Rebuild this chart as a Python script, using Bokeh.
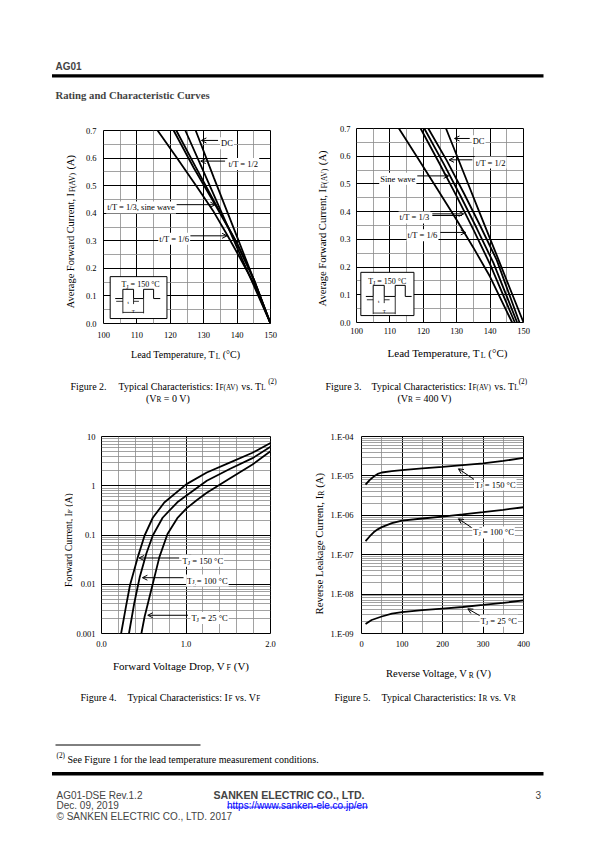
import math
from bokeh.plotting import figure
from bokeh.models import (Range1d, Label, Arrow, OpenHead, FixedTicker,
                          NumeralTickFormatter, CustomJSTickFormatter)
from bokeh.layouts import column, row
from bokeh.embed import file_html
from bokeh.resources import INLINE

SERIF = "Liberation Serif"
SANS = "Liberation Sans"

# ---------------- Figure 2 : IF(AV) vs TL  (VR = 0 V) ----------------
F2_DC_T = [127.6, 133, 139, 144, 150]
F2_DC_I = [0.70, 0.53, 0.345, 0.19, 0.0]
F2_HALF_T = [124.5, 130, 136, 142, 150]
F2_HALF_I = [0.70, 0.55, 0.385, 0.22, 0.0]
F2_SINE_T = [121.8, 127.5, 133.5, 140, 145, 150]
F2_SINE_I = [0.70, 0.57, 0.435, 0.29, 0.16, 0.0]
F2_THIRD_T = [121.0, 127, 133.5, 140, 145, 150]
F2_THIRD_I = [0.70, 0.565, 0.43, 0.29, 0.16, 0.0]
F2_SIXTH_T = [116.2, 122, 128, 133, 137, 141, 145, 150]
F2_SIXTH_I = [0.70, 0.60, 0.495, 0.405, 0.322, 0.235, 0.145, 0.0]

# ---------------- Figure 3 : IF(AV) vs TL  (VR = 400 V) ----------------
F3_DC_T = [126.8, 132, 137, 142, 146, 150]
F3_DC_I = [0.70, 0.543, 0.392, 0.242, 0.121, 0.0]
F3_HALF_T = [121.5, 127, 132, 137, 142, 148.8]
F3_HALF_I = [0.70, 0.585, 0.47, 0.35, 0.225, 0.0]
F3_SINE_T = [120.3, 126, 131, 136, 141, 148.1]
F3_SINE_I = [0.70, 0.575, 0.46, 0.34, 0.215, 0.0]
F3_THIRD_T = [119.2, 125, 130, 135, 140, 147.4]
F3_THIRD_I = [0.70, 0.57, 0.455, 0.335, 0.21, 0.0]
F3_SIXTH_T = [112.7, 118, 124, 130, 135, 140, 146.6]
F3_SIXTH_I = [0.70, 0.60, 0.485, 0.37, 0.27, 0.165, 0.0]

# ---------------- Figure 4 : IF vs VF ----------------
F4_150_V = [0.232, 0.29, 0.337, 0.426, 0.51, 0.607, 0.743, 1.006, 1.246, 1.517, 1.787, 2.0]
F4_150_I = [0.001, 0.00355, 0.00955, 0.0339, 0.0977, 0.224, 0.457, 1.08, 1.86, 2.95, 4.68, 7.4]
F4_100_V = [0.325, 0.387, 0.453, 0.53, 0.607, 0.723, 0.897, 1.006, 1.246, 1.517, 1.787, 2.0]
F4_100_I = [0.001, 0.00407, 0.0141, 0.0417, 0.0977, 0.224, 0.462, 0.631, 1.26, 2.19, 3.63, 6.17]
F4_25_V = [0.472, 0.51, 0.549, 0.607, 0.685, 0.781, 0.897, 1.006, 1.13, 1.246, 1.517, 1.787, 2.0]
F4_25_I = [0.001, 0.00219, 0.00407, 0.0102, 0.0355, 0.105, 0.219, 0.347, 0.513, 0.724, 1.41, 2.69, 5.01]

# ---------------- Figure 5 : IR vs VR ----------------
F5_150_V = [10, 20, 30, 40, 50, 75, 100, 150, 200, 250, 300, 350, 400]
F5_150_I = [6.0e-6, 7.8e-6, 9.6e-6, 1.12e-5, 1.22e-5, 1.32e-5, 1.4e-5, 1.55e-5, 1.7e-5, 1.88e-5, 2.08e-5, 2.4e-5, 2.85e-5]
F5_100_V = [10, 20, 30, 40, 50, 75, 100, 150, 200, 250, 300, 350, 400]
F5_100_I = [2.2e-7, 2.9e-7, 3.7e-7, 4.4e-7, 5.0e-7, 6.3e-7, 7.3e-7, 8.3e-7, 9.3e-7, 1.05e-6, 1.2e-6, 1.38e-6, 1.6e-6]
F5_25_V = [10, 25, 50, 75, 100, 150, 200, 250, 300, 350, 400]
F5_25_I = [1.75e-9, 2.2e-9, 2.7e-9, 3.2e-9, 3.5e-9, 3.9e-9, 4.3e-9, 4.7e-9, 5.3e-9, 6.0e-9, 6.9e-9]

# tick values
TL_TICKS = [100, 110, 120, 130, 140, 150]
IAV_TICKS = [0.0, 0.1, 0.2, 0.3, 0.4, 0.5, 0.6, 0.7]
VF_TICKS = [0.0, 1.0, 2.0]
IF_DECADES = [-3, -2, -1, 0, 1]
VR_TICKS = [0, 100, 200, 300, 400]
IR_DECADES = [-9, -8, -7, -6, -5, -4]

# --------------- text metrics (Times) ---------------
TIMES_W = {' ': 250, '!': 333, '(': 333, ')': 333, ',': 250, '-': 333, '.': 250, '/': 278,
           ':': 278, '=': 564, '°': 400,
           'A': 722, 'B': 667, 'C': 667, 'D': 722, 'E': 611, 'F': 556, 'G': 722, 'H': 722,
           'I': 333, 'J': 389, 'K': 722, 'L': 611, 'M': 889, 'N': 722, 'O': 722, 'P': 556,
           'Q': 722, 'R': 667, 'S': 556, 'T': 611, 'U': 722, 'V': 722, 'W': 944, 'X': 722,
           'Y': 722, 'Z': 611,
           'a': 444, 'b': 500, 'c': 444, 'd': 500, 'e': 444, 'f': 333, 'g': 500, 'h': 500,
           'i': 278, 'j': 278, 'k': 500, 'l': 278, 'm': 778, 'n': 500, 'o': 500, 'p': 500,
           'q': 500, 'r': 333, 's': 389, 't': 278, 'u': 500, 'v': 500, 'w': 722, 'x': 500,
           'y': 500, 'z': 444}
for _d in "0123456789":
    TIMES_W[_d] = 500


def tw(s, size):
    return sum(TIMES_W.get(c, 500) for c in s) * size / 1000.0


def runs(p, x, y, parts, size, align="left", angle=0.0, vcenter=False,
         bg=None, font=SERIF, style="normal", color="black"):
    sizes = [size if k == "n" else size * 0.72 for _, k in parts]
    widths = [tw(t, s) for (t, _), s in zip(parts, sizes)]
    total = sum(widths)
    cum = {"left": 0.0, "center": -total / 2.0, "right": -total}[align]
    base = -0.33 * size if vcenter else 0.0
    for (t, k), s, w in zip(parts, sizes, widths):
        lead = len(t) - len(t.lstrip(" "))
        txt = t.strip(" ")
        if txt:
            pos = cum + tw(" " * lead, s)
            shift = base + {"n": 0.0, "sub": -0.22 * size, "sup": 0.38 * size}[k]
            if angle == 0:
                xo, yo = pos, shift
            else:
                xo, yo = -shift, pos
            kw = {}
            if bg is not None:
                kw = dict(background_fill_color=bg, padding=1)
            p.add_layout(Label(x=x, y=y, x_offset=xo, y_offset=yo,
                               text=txt, angle=angle, text_font=font, text_font_size=f"{s:.2f}px",
                               text_font_style=style, text_color=color, text_align="left",
                               text_baseline="alphabetic", **kw))
        cum += w


def text_fig(x0, w, y0, h):
    # a blank canvas whose data coordinates are page pixels
    p = figure(width=w, height=h, x_range=Range1d(x0, x0 + w), y_range=Range1d(y0 + h, y0),
               output_backend="svg", toolbar_location=None, title=None,
               x_axis_location=None, y_axis_location=None, min_border=0)
    p.grid.visible = False
    p.outline_line_color = None
    p.background_fill_color = "white"
    p.border_fill_color = "white"
    return p


def chart(w, h, mbl, mbr, mbt, mbb, xr, yr, ylog=False):
    p = figure(width=w, height=h, x_range=Range1d(*xr), y_range=Range1d(*yr),
               y_axis_type="log" if ylog else "linear", output_backend="svg",
               toolbar_location=None, title=None,
               min_border_left=mbl, min_border_right=mbr, min_border_top=mbt,
               min_border_bottom=mbb)
    p.outline_line_color = "black"
    p.outline_line_width = 1
    p.background_fill_color = "white"
    p.border_fill_color = "white"
    for ax in (p.xaxis[0], p.yaxis[0]):
        ax.axis_line_color = None
        ax.major_tick_line_color = None
        ax.minor_tick_line_color = None
        ax.major_tick_out = 0
        ax.major_tick_in = 0
        ax.minor_tick_out = 0
        ax.minor_tick_in = 0
        ax.major_label_text_font = SERIF
        ax.major_label_text_font_size = "8.5px"
        ax.major_label_text_color = "black"
    p.grid.grid_line_color = "black"
    p.grid.grid_line_width = 1
    p.grid.minor_grid_line_color = "#8a8a8a"
    p.grid.minor_grid_line_width = 0.8
    return p


def arrow(p, x0, y0, x1, y1):
    p.add_layout(Arrow(x_start=x0, y_start=y0, x_end=x1, y_end=y1, line_width=1,
                       line_color="black",
                       end=OpenHead(size=5, line_width=1, line_color="black")))


def tag(p, x, y, text, size=8.5):
    runs(p, x, y, [(text, "n")], size, vcenter=True, bg="white")


def tj_tag(p, x, y, temp, size=8.5):
    runs(p, x, y, [("T", "n"), ("J", "sub"), (f" = {temp} °C", "n")], size, vcenter=True, bg="white")


def inset(p, box, title_xy, wx, lo, hi):
    l, r, b, t = box
    p.quad(left=[l], right=[r], bottom=[b], top=[t], fill_color="white",
           line_color="black", line_width=1)
    runs(p, title_xy[0], title_xy[1], [("T", "n"), ("J", "sub"), (" = 150 °C", "n")], 8.0,
         align="center", vcenter=True)
    xs = [wx[0], wx[1], wx[1], wx[2], wx[2], wx[3], wx[3], wx[4], wx[4], wx[5]]
    ys = [lo, lo, hi, hi, lo, lo, hi, hi, lo, lo]
    p.line(xs, ys, color="black", line_width=1)
    d = hi - lo
    p.segment(x0=[wx[1], wx[2], wx[3]], y0=[lo, lo, lo],
              x1=[wx[1], wx[2], wx[3]], y1=[lo - 1.6 * d, lo - 0.6 * d, lo - 1.6 * d],
              color="black", line_width=0.8)
    p.segment(x0=[wx[0] + 0.3, wx[2] + 1.6, wx[1]], y0=[lo - 0.3 * d, lo - 0.3 * d, lo - 1.5 * d],
              x1=[wx[1], wx[2], wx[3]], y1=[lo - 0.3 * d, lo - 0.3 * d, lo - 1.5 * d],
              color="black", line_width=0.8)
    runs(p, (wx[1] + wx[2]) / 2, lo - 0.3 * d, [("t", "n")], 5.0, align="center", vcenter=True)
    runs(p, (wx[1] + wx[3]) / 2, lo - 1.2 * d, [("T", "n")], 5.0, align="center", vcenter=True)


# ======================= header =======================
hdr = text_fig(0, 595, 0, 112)
hdr.add_layout(Label(x=55, y=66, text="AG01", text_font=SANS, text_font_style="bold",
                     text_font_size="10px", text_baseline="alphabetic"))
hdr.quad(left=[51.5], right=[543], top=[73.8], bottom=[77.0], fill_color="black", line_color=None)
hdr.add_layout(Label(x=55, y=94.5, text="Rating and Characteristic Curves", text_font=SERIF,
                     text_font_style="bold", text_font_size="10.7px", text_baseline="alphabetic"))

# ======================= Figure 2 =======================
f2 = chart(218, 231, 21, 30, 18, 20, (100, 150), (0, 0.7))
f2.xaxis.ticker = FixedTicker(ticks=TL_TICKS, minor_ticks=[t + 5 for t in TL_TICKS[:-1]])
f2.yaxis.ticker = FixedTicker(ticks=IAV_TICKS, minor_ticks=[v + 0.05 for v in IAV_TICKS[:-1]])
f2.yaxis.formatter = NumeralTickFormatter(format="0.0")
f2.yaxis.major_label_standoff = 7
f2.xaxis.major_label_standoff = 8
for T, I in [(F2_DC_T, F2_DC_I), (F2_HALF_T, F2_HALF_I), (F2_SINE_T, F2_SINE_I),
             (F2_THIRD_T, F2_THIRD_I), (F2_SIXTH_T, F2_SIXTH_I)]:
    f2.line(T, I, color="black", line_width=1.8)
arrow(f2, 134.3, 0.664, 129.3, 0.664)
arrow(f2, 136.4, 0.589, 129.1, 0.589)
arrow(f2, 121.9, 0.431, 133.5, 0.431)
arrow(f2, 126.0, 0.318, 137.0, 0.318)
tag(f2, 134.9, 0.664, "DC")
tag(f2, 137.1, 0.589, "t/T = 1/2")
tag(f2, 100.8, 0.431, "t/T = 1/3, sine wave")
tag(f2, 116.4, 0.318, "t/T = 1/6")
inset(f2, (102.0, 119.0, 0.018, 0.170), (111.1, 0.150), [103.5, 105.8, 109.0, 112.0, 115.0, 117.0],
      0.0905, 0.124)
yl2 = text_fig(0, 82, 112, 231)
runs(yl2, 70, 233, [("Average Forward Current, I", "n"), ("F(AV)", "sub"), (" (A)", "n")],
     10.4, align="center", angle=math.pi / 2)
xl2 = text_fig(0, 300, 343, 23)
runs(xl2, 185, 354, [("Lead Temperature, T", "n"), ("L", "sub"), (" (°C)", "n")], 10.0, align="center")

# ======================= Figure 3 =======================
f3 = chart(263, 231, 24, 72, 16, 21, (100, 150), (0, 0.7))
f3.xaxis.ticker = FixedTicker(ticks=TL_TICKS, minor_ticks=[t + 5 for t in TL_TICKS[:-1]])
f3.yaxis.ticker = FixedTicker(ticks=IAV_TICKS, minor_ticks=[v + 0.05 for v in IAV_TICKS[:-1]])
f3.yaxis.formatter = NumeralTickFormatter(format="0.0")
f3.yaxis.major_label_standoff = 6
f3.xaxis.major_label_standoff = 5
for T, I in [(F3_DC_T, F3_DC_I), (F3_HALF_T, F3_HALF_I), (F3_SINE_T, F3_SINE_I),
             (F3_THIRD_T, F3_THIRD_I), (F3_SIXTH_T, F3_SIXTH_I)]:
    f3.line(T, I, color="black", line_width=1.8)
arrow(f3, 133.9, 0.664, 129.35, 0.664)
arrow(f3, 134.7, 0.587, 127.7, 0.587)
arrow(f3, 118.2, 0.529, 127.6, 0.529)
arrow(f3, 122.7, 0.392, 132.1, 0.392)
f3.segment(x0=[122.7], y0=[0.386], x1=[131.6], y1=[0.386], color="black", line_width=1)
arrow(f3, 125.1, 0.325, 132.7, 0.325)
tag(f3, 134.5, 0.664, "DC")
tag(f3, 135.4, 0.587, "t/T = 1/2")
tag(f3, 106.8, 0.529, "Sine wave")
tag(f3, 112.6, 0.389, "t/T = 1/3")
tag(f3, 115.0, 0.325, "t/T = 1/6")
inset(f3, (101.3, 117.2, 0.025, 0.181), (109.2, 0.158), [102.8, 105.0, 108.3, 111.6, 114.6, 116.5],
      0.094, 0.134)
yl3 = text_fig(300, 32, 112, 231)
runs(yl3, 322, 231, [("Average Forward Current, I", "n"), ("F(AV)", "sub"), (" (A)", "n")],
     10.6, align="center", angle=math.pi / 2)
xl3 = text_fig(300, 295, 343, 23)
runs(xl3, 447, 352.5, [("Lead Temperature, T", "n"), ("L", "sub"), (" (°C)", "n")], 11.0, align="center")

# ======================= captions 2/3 =======================
cap = text_fig(0, 595, 366, 54)
runs(cap, 70, 385.5, [("Figure 2.", "n")], 10)
runs(cap, 118, 385.5, [("Typical Characteristics: I", "n"), ("F(AV)", "sub"), (" vs. T", "n"),
                       ("L", "sub"), (" ", "n"), ("(2)", "sup")], 10)
runs(cap, 167.5, 397.5, [("(V", "n"), ("R", "sub"), (" = 0 V)", "n")], 10, align="center")
runs(cap, 325, 385.5, [("Figure 3.", "n")], 10)
runs(cap, 371, 385.5, [("Typical Characteristics: I", "n"), ("F(AV)", "sub"), (" vs. T", "n"),
                       ("L", "sub"), ("(2)", "sup")], 10)
runs(cap, 424, 397.5, [("(V", "n"), ("R", "sub"), (" = 400 V)", "n")], 10, align="center")

# ======================= Figure 4 =======================
f4 = chart(227, 233, 25, 30, 16, 20, (0, 2), (1e-3, 10), ylog=True)
f4.xaxis.ticker = FixedTicker(ticks=VF_TICKS,
                              minor_ticks=[0.2, 0.4, 0.6, 0.8, 1.2, 1.4, 1.6, 1.8])
f4.xaxis.formatter = NumeralTickFormatter(format="0.0")
f4.yaxis.ticker = FixedTicker(ticks=[10.0 ** e for e in IF_DECADES],
                              minor_ticks=[k * 10.0 ** e for e in IF_DECADES[:-1] for k in range(2, 10)])
f4.yaxis.formatter = CustomJSTickFormatter(
    code="return tick >= 1 ? tick.toFixed(0) : tick.toPrecision(1);")
f4.yaxis.major_label_standoff = 6
f4.xaxis.major_label_standoff = 7
for V, I in [(F4_150_V, F4_150_I), (F4_100_V, F4_100_I), (F4_25_V, F4_25_I)]:
    f4.line(V, I, color="black", line_width=1.8)
arrow(f4, 0.919, 10 ** -1.467, 0.444, 10 ** -1.467)
arrow(f4, 0.971, 10 ** -1.867, 0.484, 10 ** -1.867)
arrow(f4, 1.023, 10 ** -2.63, 0.547, 10 ** -2.63)
tj_tag(f4, 0.947, 10 ** -1.467, 150)
tj_tag(f4, 1.001, 10 ** -1.867, 100)
tj_tag(f4, 1.052, 10 ** -2.63, 25)
yl4 = text_fig(0, 73, 420, 233)
runs(yl4, 67.5, 542.5, [("Forward Current, I", "n"), ("F", "sub"), (" (A)", "n")],
     9.8, align="center", angle=math.pi / 2)
xl4 = text_fig(0, 300, 653, 27)
runs(xl4, 180.5, 665, [("Forward Voltage Drop, V", "n"), ("F", "sub"), (" (V)", "n")], 11.0, align="center")

# ======================= Figure 5 =======================
f5 = chart(268, 233, 31, 72, 16, 20, (0, 400), (1e-9, 1e-4), ylog=True)
f5.xaxis.ticker = FixedTicker(ticks=VR_TICKS, minor_ticks=[50, 150, 250, 350])
f5.yaxis.ticker = FixedTicker(ticks=[10.0 ** e for e in IR_DECADES],
                              minor_ticks=[k * 10.0 ** e for e in IR_DECADES[:-1] for k in range(2, 10)])
f5.yaxis.formatter = CustomJSTickFormatter(code="""
const e = Math.round(Math.log10(tick));
const s = String(Math.abs(e)).padStart(2, '0');
return '1.E' + (e < 0 ? '-' : '+') + s;""")
f5.yaxis.major_label_standoff = 8
f5.xaxis.major_label_standoff = 7
for V, I in [(F5_150_V, F5_150_I), (F5_100_V, F5_100_I), (F5_25_V, F5_25_I)]:
    f5.line(V, I, color="black", line_width=1.8)
arrow(f5, 277.6, 10 ** -5.086, 239.3, 10 ** -4.82)
arrow(f5, 271.5, 10 ** -6.31, 239.3, 10 ** -6.089)
arrow(f5, 295.8, 10 ** -8.57, 262.5, 10 ** -8.373)
tj_tag(f5, 277.8, 10 ** -5.15, 150)
tj_tag(f5, 273.5, 10 ** -6.365, 100)
tj_tag(f5, 291.7, 10 ** -8.607, 25)
yl5 = text_fig(300, 27, 420, 233)
runs(yl5, 318.5, 546.7, [("Reverse Leakage Current, I", "n"), ("R", "sub"), (" (A)", "n")],
     10.8, align="center", angle=math.pi / 2)
xl5 = text_fig(300, 295, 653, 27)
runs(xl5, 438, 672.6, [("Reverse Voltage, V", "n"), ("R", "sub"), (" (V)", "n")], 10.5, align="center")

# ======================= bottom: captions 4/5, footnote, footer =======================
bot = text_fig(0, 595, 680, 160)
runs(bot, 80, 696.5, [("Figure 4.", "n")], 10)
runs(bot, 127, 696.5, [("Typical Characteristics: I", "n"), ("F", "sub"), (" vs. V", "n"), ("F", "sub")], 10)
runs(bot, 334, 696.5, [("Figure 5.", "n")], 10)
runs(bot, 381, 696.5, [("Typical Characteristics: I", "n"), ("R", "sub"), (" vs. V", "n"), ("R", "sub")], 10)
bot.segment(x0=[55], y0=[744.5], x1=[200], y1=[744.5], color="black", line_width=1)
runs(bot, 56, 759, [("(2)", "sup"), (" See Figure 1 for the lead temperature measurement conditions.", "n")], 10)
bot.quad(left=[51.5], right=[543], top=[771.5], bottom=[775.0], fill_color="black", line_color=None)
for yb, txt in [(794.5, "AG01-DSE Rev.1.2"), (805, "Dec. 09, 2019"), (815.5, "© SANKEN ELECTRIC CO., LTD. 2017")]:
    bot.add_layout(Label(x=56, y=yb, text=txt, text_font=SANS, text_font_size="10px",
                         text_baseline="alphabetic"))
bot.add_layout(Label(x=213, y=794.5, text="SANKEN ELECTRIC CO., LTD.", text_font=SANS,
                     text_font_style="bold", text_font_size="10.6px", text_baseline="alphabetic"))
bot.add_layout(Label(x=226.5, y=805, text="https://www.sanken-ele.co.jp/en", text_font=SANS,
                     text_font_size="10px", text_color="#0000ff", text_baseline="alphabetic"))
bot.segment(x0=[226.5], y0=[806.6], x1=[367.5], y1=[806.6], color="#0000ff", line_width=0.8)
bot.add_layout(Label(x=535, y=794.5, text="3", text_font=SANS, text_font_size="10px",
                     text_baseline="alphabetic"))

blockB = row(column(row(yl2, f2), xl2), column(row(yl3, f3), xl3))
blockD = row(column(row(yl4, f4), xl4), column(row(yl5, f5), xl5))
layout = column(hdr, blockB, cap, blockD, bot)
open("out.html", "w").write(file_html(layout, INLINE))
